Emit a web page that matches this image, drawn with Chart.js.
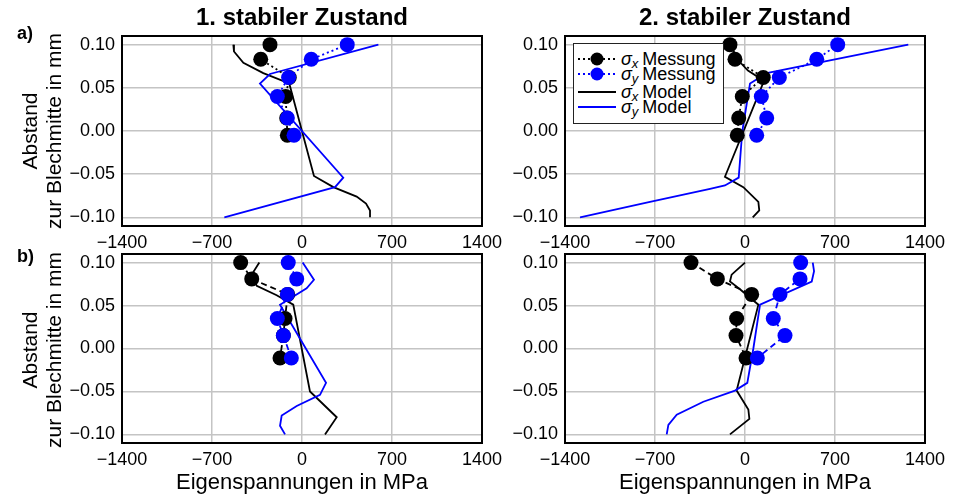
<!DOCTYPE html>
<html lang="de">
<head>
<meta charset="utf-8">
<title>Eigenspannungen</title>
<script src="https://cdn.jsdelivr.net/npm/chart.js@4.4.1/dist/chart.umd.min.js"></script>
<style>
  body { margin: 0; width: 961px; height: 498px; background: #fff; position: relative; overflow: hidden;
         font-family: "Liberation Sans", Arial, sans-serif; color: #000; }
  canvas { position: absolute; }
  .txt { position: absolute; white-space: nowrap; z-index: 2; }
  .titulo { font-weight: bold; font-size: 24px; line-height: 24px; transform: translateX(-50%); }
  .xlabel { font-size: 22px; line-height: 22px; transform: translateX(-50%); }
  .ylabel { font-size: 21px; line-height: 24px; text-align: center; transform: translate(-50%, -50%) rotate(-90deg); }
  .letra { font-weight: bold; font-size: 18px; line-height: 18px; }
  #leyenda { position: absolute; left: 573px; top: 43px; width: 149px; height: 79px; border: 1px solid #222;
             background: #fff; font-size: 18px; z-index: 3; }
  .fila { position: absolute; left: 4px; height: 18px; display: flex; align-items: center; }
  .fila svg { margin-right: 5px; }
  .sub { font-size: 13px; font-style: italic; position: relative; top: 4px; margin-right: 4px; }
</style>
</head>
<body>

<canvas id="c1" width="445" height="230" style="left:60px; top:28px;"></canvas>
<canvas id="c2" width="445" height="230" style="left:503px; top:28px;"></canvas>
<canvas id="c3" width="445" height="226" style="left:60px; top:246px;"></canvas>
<canvas id="c4" width="445" height="226" style="left:503px; top:246px;"></canvas>

<div class="txt titulo" style="left:302px; top:5px;">1. stabiler Zustand</div>
<div class="txt titulo" style="left:745px; top:5px;">2. stabiler Zustand</div>
<div class="txt xlabel" style="left:302px; top:471px;">Eigenspannungen in MPa</div>
<div class="txt xlabel" style="left:745px; top:471px;">Eigenspannungen in MPa</div>
<div class="txt ylabel" style="left:42px; top:131px;">Abstand<br>zur Blechmitte in mm</div>
<div class="txt ylabel" style="left:42px; top:350px;">Abstand<br>zur Blechmitte in mm</div>
<div class="txt letra" style="left:17px; top:24px;">a)</div>
<div class="txt letra" style="left:17px; top:247px;">b)</div>

<div id="leyenda">
  <div class="fila" style="top:6px;">
    <svg width="38" height="18"><line x1="0" y1="9" x2="38" y2="9" stroke="#000" stroke-width="1.8" stroke-dasharray="2,3"/><circle cx="19" cy="9" r="6.5" fill="#000"/></svg>
    <i>σ</i><span class="sub">x</span>Messung
  </div>
  <div class="fila" style="top:21px;">
    <svg width="38" height="18"><line x1="0" y1="9" x2="38" y2="9" stroke="blue" stroke-width="1.8" stroke-dasharray="2,3"/><circle cx="19" cy="9" r="6.5" fill="blue"/></svg>
    <i>σ</i><span class="sub">y</span>Messung
  </div>
  <div class="fila" style="top:39px;">
    <svg width="38" height="18"><line x1="0" y1="9" x2="38" y2="9" stroke="#000" stroke-width="1.8"/></svg>
    <i>σ</i><span class="sub">x</span>Model
  </div>
  <div class="fila" style="top:54px;">
    <svg width="38" height="18"><line x1="0" y1="9" x2="38" y2="9" stroke="blue" stroke-width="1.8"/></svg>
    <i>σ</i><span class="sub">y</span>Model
  </div>
</div>

<script>
// Ejes
const xTicks = [-1400, -700, 0, 700, 1400];
const yTicks = [-0.10, -0.05, 0.00, 0.05, 0.10];
const xMin = -1400, xMax = 1400;
const yMin = -0.11, yMax = 0.11;

// Profundidades de las mediciones (mm)
const yMessA = [0.100, 0.083, 0.062, 0.040, 0.015, -0.005];
const yMessB = [0.100, 0.081, 0.063, 0.035, 0.015, -0.011];

// a) 1. stabiler Zustand
const a1SxMess = [-249, -321, -99, -127, -119, -114];
const a1SyMess = [352, 72, -104, -192, -114, -62];
const a1SxModelY = [0.100, 0.092, 0.079, 0.067, 0.055, -0.052, -0.065, -0.076, -0.084, -0.092, -0.100];
const a1SxModelX = [-534, -529, -456, -301, -99, 93, 244, 425, 498, 529, 529];
const a1SyModelY = [0.100, 0.066, 0.055, -0.054, -0.065, -0.100];
const a1SyModelX = [594, -249, -327, 321, 257, -604];

// a) 2. stabiler Zustand
const a2SxMess = [-117, -78, 142, -21, -49, -60];
const a2SyMess = [721, 558, 267, 127, 169, 91];
const a2SxModelY = [0.100, 0.083, 0.070, 0.058, -0.053, -0.065, -0.082, -0.092, -0.100];
const a2SxModelX = [-110, -60, 23, 148, -156, -13, 104, 111, 60];
const a2SyModelY = [0.100, 0.067, 0.055, 0.000, -0.054, -0.063, -0.067, -0.082, -0.100];
const a2SyModelX = [1270, 169, 39, -21, -49, -156, -272, -739, -1283];

// b) 1. stabiler Zustand
const b1SxMess = [-477, -391, -111, -132, -145, -171];
const b1SyMess = [-107, -41, -114, -192, -145, -83];
const b1SxModelY = [0.100, 0.086, 0.073, 0.062, 0.051, -0.050, -0.080, -0.100];
const b1SxModelX = [-332, -391, -352, -197, -68, 62, 270, 179];
const b1SyModelY = [0.100, 0.080, 0.070, 0.051, -0.040, -0.054, -0.067, -0.078, -0.090, -0.100];
const b1SyModelX = [5, 93, 36, -171, 187, 140, -41, -158, -171, -132];

// b) 2. stabiler Zustand
const b2SxMess = [-420, -215, 52, -65, -70, 8];
const b2SyMess = [433, 428, 272, 220, 311, 96];
const b2SxModelY = [0.100, 0.086, 0.078, 0.069, 0.051, -0.049, -0.071, -0.082, -0.100];
const b2SxModelX = [0, -104, -117, -39, 104, -65, 26, 34, -117];
const b2SyModelY = [0.100, 0.090, 0.078, 0.051, 0.000, -0.040, -0.049, -0.062, -0.077, -0.089, -0.100];
const b2SyModelX = [527, 537, 519, 117, 65, 18, -78, -324, -531, -596, -609];

const fuente = '"Liberation Sans", Arial, sans-serif';

function puntos(xs, ys) {
    return xs.map((x, i) => ({ x: x, y: ys[i] }));
}

function fmtX(v) {
    return String(v).replace('-', '\u2212');
}

function fmtY(v) {
    if (Math.abs(v) < 1e-9) return '0.00';
    return v.toFixed(2).replace('-', '\u2212');
}

// Marco negro alrededor del area del grafico
const marco = {
    id: 'marco',
    afterDatasetsDraw(chart) {
        const { ctx, chartArea: a } = chart;
        ctx.save();
        ctx.strokeStyle = '#000';
        ctx.lineWidth = 2;
        ctx.strokeRect(a.left, a.top, a.right - a.left, a.bottom - a.top);
        ctx.restore();
    }
};

function crearPanel(id, sxMess, syMess, yMess, sxModel, syModel, dash, altoX) {
    const medicion = (data, color, orden) => ({
        data: data,
        showLine: true,
        borderColor: color,
        borderWidth: 1.8,
        borderDash: dash,
        pointRadius: 7.5,
        pointHoverRadius: 7.5,
        pointBackgroundColor: color,
        pointBorderWidth: 0,
        order: orden
    });
    const modelo = (data, color, orden) => ({
        data: data,
        showLine: true,
        borderColor: color,
        borderWidth: 1.8,
        pointRadius: 0,
        tension: 0,
        order: orden
    });

    return new Chart(document.getElementById(id), {
        type: 'scatter',
        data: {
            datasets: [
                medicion(puntos(sxMess, yMess), '#000', 1),
                medicion(puntos(syMess, yMess), 'blue', 0),
                modelo(sxModel, '#000', 3),
                modelo(syModel, 'blue', 2)
            ]
        },
        options: {
            responsive: false,
            animation: false,
            events: [],
            devicePixelRatio: 1,
            layout: { padding: { top: 8, right: 23, bottom: 0, left: 0 } },
            plugins: { legend: { display: false }, tooltip: { enabled: false } },
            scales: {
                x: {
                    type: 'linear',
                    min: xMin,
                    max: xMax,
                    afterBuildTicks: s => { s.ticks = xTicks.map(v => ({ value: v })); },
                    afterFit: s => { s.height = altoX; s.paddingLeft = 0; s.paddingRight = 0; },
                    grid: { color: '#c4c4c4', lineWidth: 1.5, drawTicks: false },
                    border: { display: false },
                    ticks: { padding: 6, color: '#000', font: { family: fuente, size: 18 },
                             maxRotation: 0, autoSkip: false, callback: v => fmtX(v) }
                },
                y: {
                    type: 'linear',
                    min: yMin,
                    max: yMax,
                    afterBuildTicks: s => { s.ticks = yTicks.map(v => ({ value: v })); },
                    afterFit: s => { s.width = 62; s.paddingTop = 0; s.paddingBottom = 0; },
                    grid: { color: '#c4c4c4', lineWidth: 1.5, drawTicks: false },
                    border: { display: false },
                    ticks: { padding: 7, color: '#000', font: { family: fuente, size: 18 },
                             autoSkip: false, callback: v => fmtY(v) }
                }
            }
        },
        plugins: [marco]
    });
}

crearPanel('c1', a1SxMess, a1SyMess, yMessA,
    puntos(a1SxModelX, a1SxModelY), puntos(a1SyModelX, a1SyModelY), [2, 3], 32);
crearPanel('c2', a2SxMess, a2SyMess, yMessA,
    puntos(a2SxModelX, a2SxModelY), puntos(a2SyModelX, a2SyModelY), [2, 3], 32);
crearPanel('c3', b1SxMess, b1SyMess, yMessB,
    puntos(b1SxModelX, b1SxModelY), puntos(b1SyModelX, b1SyModelY), [6, 4], 29);
crearPanel('c4', b2SxMess, b2SyMess, yMessB,
    puntos(b2SxModelX, b2SxModelY), puntos(b2SyModelX, b2SyModelY), [6, 4], 29);
</script>
</body>
</html>
